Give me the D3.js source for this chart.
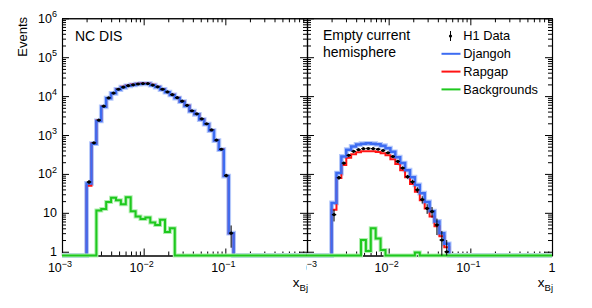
<!DOCTYPE html>
<html>
<head>
<meta charset="utf-8">
<script src="https://cdn.jsdelivr.net/npm/d3@7"></script>
<style>
  body { margin: 0; background: #fff; }
  text { font-family: "Liberation Sans", Arial, sans-serif; fill: #000; }
</style>
</head>
<body>
<div id="chart"></div>
<script>
// 30 bins in log10(x), 0.06 decade wide, starting at x = 0.002
var nBins = 30;
var edges = d3.range(nBins + 1).map(function(i) { return 0.002 * Math.pow(10, 0.06 * i); });

// NC DIS panel
var ncData    = [62, 630, 2400, 5500, 9000, 12000, 15000, 17000, 18500, 19500, 20500, 21000, 21000, 19200, 17300, 15000, 12800, 10900, 9100, 7400, 5800, 4200, 3500, 2600, 1950, 1350, 740, 430, 91, 3];
var ncDjangoh = [57, 600, 2300, 5300, 8800, 11800, 14800, 16900, 18400, 19400, 20400, 20900, 20800, 19100, 17100, 14800, 12600, 10700, 8900, 7200, 5600, 4100, 3400, 2500, 1900, 1300, 720, 420, 88, 3];
var ncRapgap  = [50, 610, 2350, 5400, 9000, 12100, 15200, 17300, 18800, 19800, 20800, 21300, 21200, 19500, 17400, 15100, 12800, 10900, 9050, 7300, 5700, 4150, 3450, 2550, 1930, 1320, 730, 425, 89, 3];
var ncBkg     = [0, 0, 11.5, 12.5, 19, 24.5, 21, 16.5, 25, 11, 8, 6.9, 7.6, 5.6, 4.9, 6.6, 3.2, 4, 0, 0, 0, 0, 0, 0, 0, 0, 0, 0, 0, 0];

// Empty current hemisphere panel
var ecData    = [9, 80, 190, 300, 380, 420, 445, 450, 445, 430, 400, 350, 280, 210, 142, 85, 63, 39, 22, 13, 10.8, 4.9, 2.0, 1.0];
var ecDjangoh = [18, 105, 280, 420, 510, 570, 600, 610, 600, 575, 530, 460, 370, 270, 190, 125, 82, 52, 32, 19, 11, 6, 3, 1.6];
var ecRapgap  = [12, 78, 170, 260, 320, 360, 380, 385, 380, 365, 340, 300, 240, 180, 125, 82, 55, 35, 21, 13, 8, 4.5, 2.5, 1.3];
var ecBkg     = [0, 0, 0, 0, 0, 0, 2.0, 1.05, 4.0, 2.2, 1.1, 0, 0, 0, 0, 0, 0, 0.95, 0, 0, 0, 0, 0, 0];

var yTicks = [[1e6, "10", "6"], [1e5, "10", "5"], [1e4, "10", "4"], [1e3, "10", "3"], [1e2, "10", "2"], [10, "10", ""], [1, "1", ""]];
var xTicksLeft = [[1e-3, "10", "\u22123"], [1e-2, "10", "\u22122"], [1e-1, "10", "\u22121"]];
var xTicksRight = [[1e-3, "10", "\u22123"], [1e-2, "10", "\u22122"], [1e-1, "10", "\u22121"], [1, "1", ""]];
var legendItems = ["H1 Data", "Djangoh", "Rapgap", "Backgrounds"];

var blue = "#3d6cf2", blueHalo = "#b4c8fb";
var red = "#ff1414";
var green = "#1ec81e", greenHalo = "#b0efb0";

var W = 592, H = 308;
var yTop = 18.3, yBottom = 255.5;
var yMin = 0.8, yMax = 1e6;

var svg = d3.select("#chart").append("svg")
  .attr("width", W).attr("height", H);

var y = d3.scaleLog().domain([yMin, yMax]).range([yBottom, yTop]);

var majorX = [1e-3, 1e-2, 1e-1, 1];
var minorX = [];
[1e-3, 1e-2, 1e-1].forEach(function(d) { for (var k = 2; k < 10; k++) minorX.push(d * k); });
var majorY = [1, 10, 100, 1e3, 1e4, 1e5, 1e6];
var minorY = [0.9];
[1, 10, 100, 1e3, 1e4, 1e5].forEach(function(d) { for (var k = 2; k < 10; k++) minorY.push(d * k); });

function stepPath(x, vals) {
  var y0 = yBottom;
  var p = "M" + x(1e-3) + "," + y0 + "H" + x(edges[0]);
  vals.forEach(function(v, i) {
    var yy = v > yMin ? y(v) : y0;
    p += "V" + yy + "H" + x(edges[i + 1]);
  });
  p += "V" + y0 + "H" + x(1);
  return p;
}

function drawAxes(g, x, left, right) {
  [[d3.axisBottom, yBottom], [d3.axisTop, yTop]].forEach(function(a) {
    g.append("g").attr("transform", "translate(0," + a[1] + ")")
      .call(a[0](x).tickValues(majorX).tickSizeInner(-7).tickSizeOuter(0).tickFormat(""));
    g.append("g").attr("transform", "translate(0," + a[1] + ")")
      .call(a[0](x).tickValues(minorX).tickSizeInner(-4).tickSizeOuter(0).tickFormat(""));
  });
  [[d3.axisLeft, left], [d3.axisRight, right]].forEach(function(a) {
    g.append("g").attr("transform", "translate(" + a[1] + ",0)")
      .call(a[0](y).tickValues(majorY).tickSizeInner(-7).tickSizeOuter(0).tickFormat(""));
    g.append("g").attr("transform", "translate(" + a[1] + ",0)")
      .call(a[0](y).tickValues(minorY).tickSizeInner(-4).tickSizeOuter(0).tickFormat(""));
  });
  g.selectAll(".domain").attr("stroke", "#000").attr("stroke-width", 1.1);
  g.selectAll(".tick line").attr("stroke", "#000").attr("stroke-width", 1);
}

function drawPanel(x, left, right, id, d, dj, rg, bk, xTicks) {
  var g = svg.append("g");
  drawAxes(g, x, left, right);

  svg.append("clipPath").attr("id", "clip" + id)
    .append("rect").attr("x", left).attr("y", yTop).attr("width", right - left).attr("height", yBottom - yTop + 3);
  var h = svg.append("g").attr("clip-path", "url(#clip" + id + ")");

  // Djangoh band first, then Rapgap, Djangoh line on top of it, backgrounds last
  [[dj, blueHalo, 4.8], [rg, red, 2], [dj, blue, 2.5], [bk, greenHalo, 4], [bk, green, 2]]
    .forEach(function(s) {
      h.append("path").attr("d", stepPath(x, s[0]))
        .attr("fill", "none").attr("stroke", s[1]).attr("stroke-width", s[2]);
    });

  var pts = h.append("g");
  d.forEach(function(v, i) {
    var cx = Math.sqrt(edges[i] * edges[i + 1]);
    var px = x(cx), err = Math.sqrt(v);
    var lo = Math.max(v - err, yMin);
    pts.append("line").attr("x1", px).attr("x2", px)
      .attr("y1", y(v + err)).attr("y2", y(lo))
      .attr("stroke", "#000").attr("stroke-width", 1);
    pts.append("line").attr("x1", px - 2.2).attr("x2", px + 2.2)
      .attr("y1", y(v)).attr("y2", y(v))
      .attr("stroke", "#000").attr("stroke-width", 1.3);
    pts.append("circle").attr("cx", px).attr("cy", y(v)).attr("r", 1.6).attr("fill", "#000");
  });

  // x tick labels
  var lab = svg.append("g");
  if (id === "R") {
    svg.append("clipPath").attr("id", "clipLab")
      .append("rect").attr("x", 306.3).attr("y", 255).attr("width", 300).attr("height", 30);
    lab.attr("clip-path", "url(#clipLab)");
  }
  xTicks.forEach(function(t) {
    var tx = lab.append("text").attr("x", x(t[0]) - (t[2] ? 2 : 0)).attr("y", 272)
      .attr("text-anchor", "middle").style("font-size", "12.5px").text(t[1]);
    if (t[2]) tx.append("tspan").attr("dy", -5.5).style("font-size", "9px").text(t[2]);
  });

  var xt = svg.append("text").attr("x", right + 1).attr("y", 287)
    .attr("text-anchor", "end").style("font-size", "13.5px").text("x");
  xt.append("tspan").attr("dy", 4).style("font-size", "9.5px").text("Bj");
}

var xL = d3.scaleLog().domain([1e-3, 1]).range([62, 307]);
var xR = d3.scaleLog().domain([1e-3, 1]).range([307, 552]);

drawPanel(xL, 62, 307, "L", ncData, ncDjangoh, ncRapgap, ncBkg, xTicksLeft);
drawPanel(xR, 307, 552, "R", ecData, ecDjangoh, ecRapgap, ecBkg, xTicksRight);

// y tick labels
yTicks.forEach(function(t) {
  var tx = svg.append("text").attr("x", 57).attr("y", y(t[0]) + 4.5)
    .attr("text-anchor", "end").style("font-size", "12.5px").text(t[1]);
  if (t[2]) tx.append("tspan").attr("dy", -5.5).style("font-size", "9px").text(t[2]);
});

svg.append("text").attr("transform", "translate(27,17) rotate(-90)")
  .attr("text-anchor", "end").style("font-size", "13px").text("Events");

svg.append("text").attr("x", 75).attr("y", 40.5).style("font-size", "14px").text("NC DIS");
svg.append("text").attr("x", 323).attr("y", 40).style("font-size", "14px").text("Empty current");
svg.append("text").attr("x", 323).attr("y", 57).style("font-size", "14px").text("hemisphere");

// legend
var lg = svg.append("g");
legendItems.forEach(function(name, i) {
  var ly = 36 + i * 17.8;
  if (i === 0) {
    lg.append("line").attr("x1", 450.5).attr("x2", 450.5).attr("y1", ly - 5).attr("y2", ly + 5)
      .attr("stroke", "#000").attr("stroke-width", 1);
    lg.append("circle").attr("cx", 450.5).attr("cy", ly).attr("r", 1.6).attr("fill", "#000");
  } else {
    var c = [blue, red, green][i - 1];
    lg.append("line").attr("x1", 441.5).attr("x2", 460.5).attr("y1", ly).attr("y2", ly)
      .attr("stroke", c).attr("stroke-width", 2);
  }
  lg.append("text").attr("x", 463.3).attr("y", ly + 4.3).style("font-size", "12.8px").text(name);
});
</script>
</body>
</html>
